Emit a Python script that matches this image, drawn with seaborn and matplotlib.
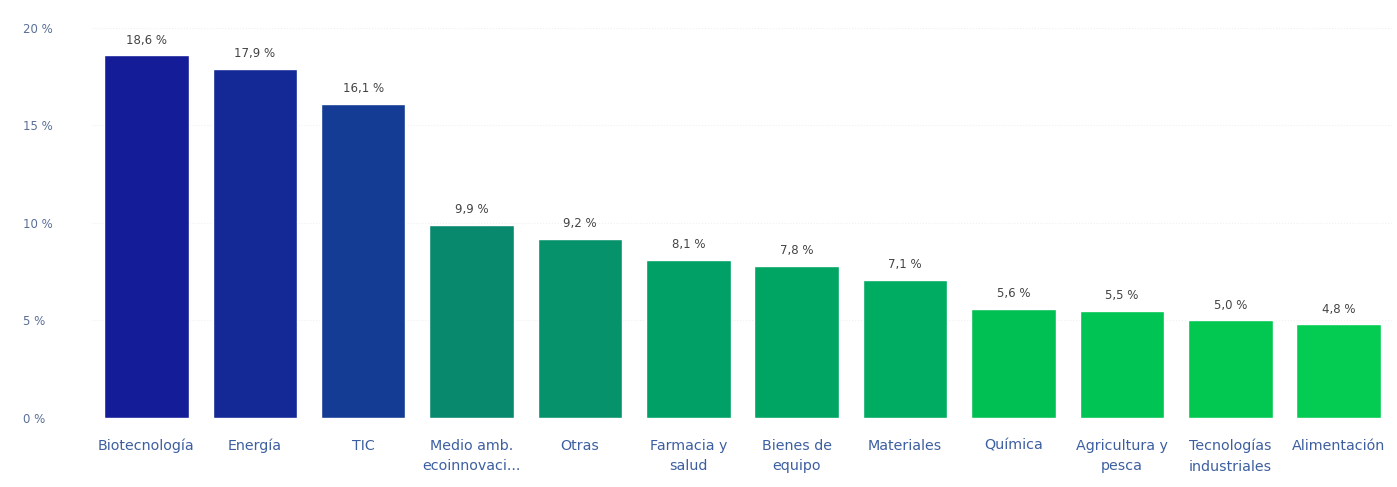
import matplotlib
matplotlib.use("Agg")
import matplotlib.pyplot as plt
import seaborn as sns
import pandas as pd

categories = ["Biotecnología", "Energía", "TIC", "Medio amb.\necoinnovaci...", "Otras",
              "Farmacia y\nsalud", "Bienes de\nequipo", "Materiales", "Química",
              "Agricultura y\npesca", "Tecnologías\nindustriales", "Alimentación"]
values = [18.6, 17.9, 16.1, 9.9, 9.2, 8.1, 7.8, 7.1, 5.6, 5.5, 5.0, 4.8]
colors = ["#141c98", "#142896", "#143c94", "#08896e", "#06936c", "#00a066",
          "#00a564", "#00ab62", "#00c053", "#00c453", "#02c852", "#04cc52"]
y_ticks = [0, 5, 10, 15, 20]

df = pd.DataFrame({"categoria": categories, "valor": values})

sns.set_style("white")
plt.rcParams['font.family'] = ['DejaVu Sans']

fig = plt.figure(figsize=(13.97, 4.87), dpi=100)
ax = fig.add_axes([0.066, 0.1417, 0.931, 0.8008])
sns.barplot(data=df, x="categoria", y="valor", hue="categoria", palette=colors,
            legend=False, width=0.78, saturation=1, ax=ax)

for i, v in enumerate(values):
    ax.text(i, v + 0.45, f"{v:.1f} %".replace(".", ","), ha="center", va="bottom",
            fontsize=8.5, color="#444444")

ax.set_ylim(0, 20)
ax.set_yticks(y_ticks)
ax.set_yticklabels([f"{t} %" for t in y_ticks], color="#5a6f96", fontsize=8.5)
ax.tick_params(axis="x", colors="#3d5fa0", labelsize=10.3, length=0, pad=15)
ax.tick_params(axis="y", length=0, pad=50)
for lbl in ax.get_yticklabels():
    lbl.set_horizontalalignment("left")
for lbl in ax.get_xticklabels():
    lbl.set_linespacing(1.6)
ax.set_xlabel("")
ax.set_ylabel("")
ax.yaxis.grid(True, color="#f0f0f0", linestyle=":", linewidth=0.8)
ax.set_axisbelow(True)
sns.despine(ax=ax, left=True, bottom=True)

fig.savefig("out.png", dpi=100)
